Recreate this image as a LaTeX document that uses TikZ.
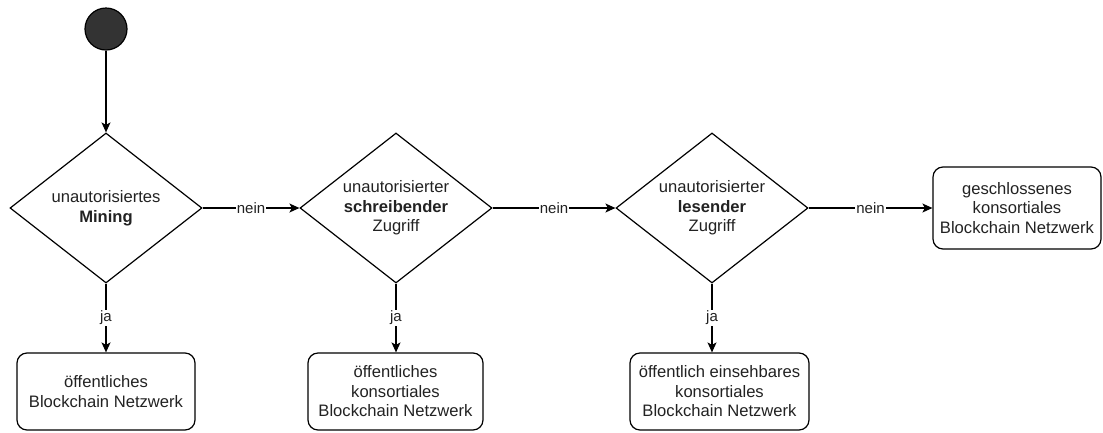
\documentclass[tikz,border=0pt]{standalone}
\usepackage{fontspec}
\setmainfont{Liberation Sans}
\usetikzlibrary{shapes.geometric,arrows.meta}
\definecolor{txt}{HTML}{222222}
\definecolor{startfill}{HTML}{333333}
\tikzset{
  x=1pt, y=-1pt,
  every node/.style={text=txt},
  decision/.style={draw, line width=1.2pt, diamond, aspect=1.28, inner sep=0pt,
    minimum width=192pt, minimum height=150pt, align=center,
    font=\fontsize{16.6}{19.5}\selectfont},
  result/.style={draw, line width=1.2pt, rectangle, rounded corners=10pt, inner sep=0pt,
    align=center, font=\fontsize{16.6}{19.5}\selectfont},
  flow/.style={draw, line width=1.2pt, -{Stealth[length=10pt,width=9pt,inset=2.5pt]}},
  edgelabel/.style={fill=white, inner sep=1pt, font=\fontsize{15}{17}\selectfont},
  startnode/.style={circle, draw, line width=1.2pt, fill=startfill, minimum size=42pt, inner sep=0pt}
}
\begin{document}
\begin{tikzpicture}
\useasboundingbox (0,0) rectangle (1103,432);
\node[startnode] (start) at (106,29) {};
\node[decision] (d1) at (106,208) {unautorisiertes\\\textbf{Mining}};
\node[decision] (d2) at (396,208) {unautorisierter\\\textbf{schreibender}\\Zugriff};
\node[decision] (d3) at (712,208) {unautorisierter\\\textbf{lesender}\\Zugriff};
\node[result, minimum width=168pt, minimum height=82pt] (r4) at (1017,208)
  {geschlossenes\\konsortiales\\Blockchain Netzwerk};
\node[result, minimum width=178pt, minimum height=77pt] (r1) at (106,391.5)
  {öffentliches\\Blockchain Netzwerk};
\node[result, minimum width=175pt, minimum height=77pt] (r2) at (395.5,391.5)
  {öffentliches\\konsortiales\\Blockchain Netzwerk};
\node[result, minimum width=179pt, minimum height=77pt] (r3) at (719.5,391.5)
  {öffentlich einsehbares\\konsortiales\\Blockchain Netzwerk};

\draw[flow] (start) -- (d1);
\draw[flow] (d1) -- node[edgelabel] {nein} (d2);
\draw[flow] (d2) -- node[edgelabel] {nein} (d3);
\draw[flow] (d3) -- node[edgelabel] {nein} (r4);
\draw[flow] (d1.south) -- node[edgelabel, pos=0.5] {ja} (d1.south |- r1.north);
\draw[flow] (d2.south) -- node[edgelabel] {ja} (d2.south |- r2.north);
\draw[flow] (d3.south) -- node[edgelabel] {ja} (d3.south |- r3.north);
\end{tikzpicture}
\end{document}
